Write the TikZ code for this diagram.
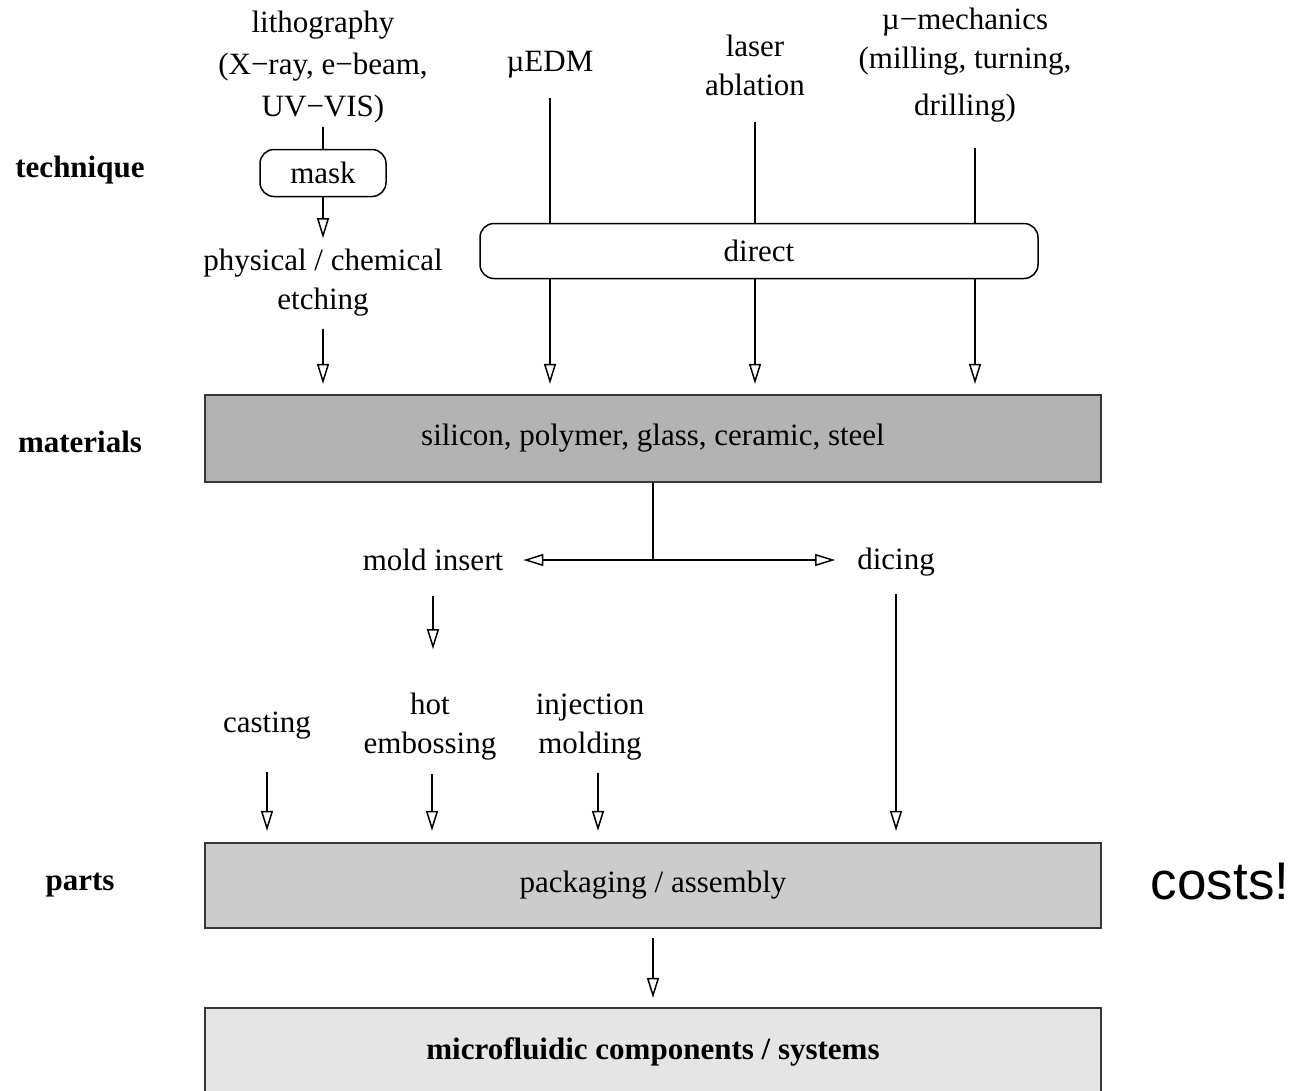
\documentclass[tikz,border=0pt]{standalone}
\usepackage{fontspec}
\setmainfont{Liberation Serif}
\newfontfamily\costsfont{Liberation Sans}
\usetikzlibrary{arrows.meta, positioning}
\definecolor{mat_gray}{RGB}{179, 179, 179}
\definecolor{part_gray}{RGB}{204, 204, 204}
\definecolor{sys_gray}{RGB}{229, 229, 229}
\definecolor{edge_gray}{RGB}{55, 55, 55}
\tikzset {
  txt/.style = {align=center, inner sep=4pt, font=\fontsize{31}{39}\selectfont},
  stage/.style = {txt, font=\fontsize{31}{39}\selectfont\bfseries},
  layer/.style = {txt, draw=edge_gray, line width=2.2pt, rectangle, minimum width=896pt},
  pill/.style = {txt, draw, line width=1.5pt, rounded corners=14pt},
  line/.style = {line width=1.5pt},
  flow/.style = {line, -{Triangle[open, length=20pt, width=12pt]}}
}

\begin{document}
\begin{tikzpicture}[x=1pt, y=-1pt]
    \useasboundingbox (0,0) rectangle (1295,1090);

    % technique
    \node[txt, font=\fontsize{31}{42}\selectfont] (litho) at (323,67) {lithography\\(X−ray, e−beam,\\UV−VIS)};
    \node[pill, minimum width=126pt, minimum height=47pt] (mask) at (323,173) {mask};
    \node[txt] (etch) at (323,283) {physical / chemical\\etching};
    \node[txt] (edm) at (550,65) {µEDM};
    \node[txt] (laser) at (755,65) {laser\\ablation};
    \node[txt] (mech) at (965,65) {µ−mechanics\\(milling, turning,\\[8pt]drilling)};
    \node[pill, minimum width=558pt, minimum height=55pt] (direct) at (759,251) {direct};

    % materials
    \node[layer, fill=mat_gray, minimum height=87pt] (mat) at (653,438.5) {silicon, polymer, glass, ceramic, steel};
    \coordinate (split) at (653,560);
    \node[txt] (mold) at (433,560) {mold insert};
    \node[txt] (dice) at (896,562) {dicing};

    % parts
    \node[txt] (cast) at (267,726) {casting};
    \node[txt] (hot) at (430,727) {hot\\embossing};
    \node[txt] (inj) at (590,727) {injection\\molding};
    \node[layer, fill=part_gray, minimum height=85pt] (parts) at (653,885.5) {packaging / assembly};
    \node[layer, fill=sys_gray, minimum height=88pt, font=\fontsize{31}{39}\selectfont\bfseries] (sys) at (653,1052) {microfluidic components / systems};

    \node[stage] (tech_lbl) at (80,170) {technique};
    \node[stage] (mat_lbl) at (80,442) {materials};
    \node[stage] (part_lbl) at (80,885) {parts};
    \node[font=\costsfont\fontsize{53}{60}\selectfont] (costs) at (1220,882) {costs!};

    \draw[line] (litho) -- (mask);
    \draw[flow, shorten >=7pt] (mask) -- (etch);
    \draw[flow, shorten <=8pt, shorten >=10pt] (etch) -- (etch |- mat.north);
    \draw[line, shorten <=15pt] (edm) -- (edm |- direct.north);
    \draw[flow, shorten >=10pt] (edm |- direct.south) -- (edm |- mat.north);
    \draw[line, shorten <=22pt] (laser) -- (laser |- direct.north);
    \draw[flow, shorten >=10pt] (laser |- direct.south) -- (laser |- mat.north);
    \draw[line, shorten <=22pt] ([xshift=10pt]mech.south) -- ([xshift=10pt]mech.south |- direct.north);
    \draw[flow, shorten >=10pt] ([xshift=10pt]mech.south |- direct.south) -- ([xshift=10pt]mech.south |- mat.north);

    \draw[line] (mat) -- (split);
    \draw[flow, shorten >=16pt] (split) -- (mold);
    \draw[flow, shorten >=18pt] (split) -- (split -| dice.west);
    \draw[flow, shorten <=21pt, shorten >=40pt] (mold) -- (mold |- hot.north);
    \draw[flow, shorten <=14pt, shorten >=11pt] (dice) -- (dice |- parts.north);
    \draw[flow, shorten <=28pt, shorten >=11pt] (cast) -- (cast |- parts.north);
    \draw[flow, shorten <=9pt, shorten >=11pt] ([xshift=2pt]hot.south) -- ([xshift=2pt]hot.south |- parts.north);
    \draw[flow, shorten <=9pt, shorten >=11pt] ([xshift=8pt]inj.south) -- ([xshift=8pt]inj.south |- parts.north);
    \draw[flow, shorten <=9pt, shorten >=9pt] (parts) -- (sys);

\end{tikzpicture}
\end{document}
